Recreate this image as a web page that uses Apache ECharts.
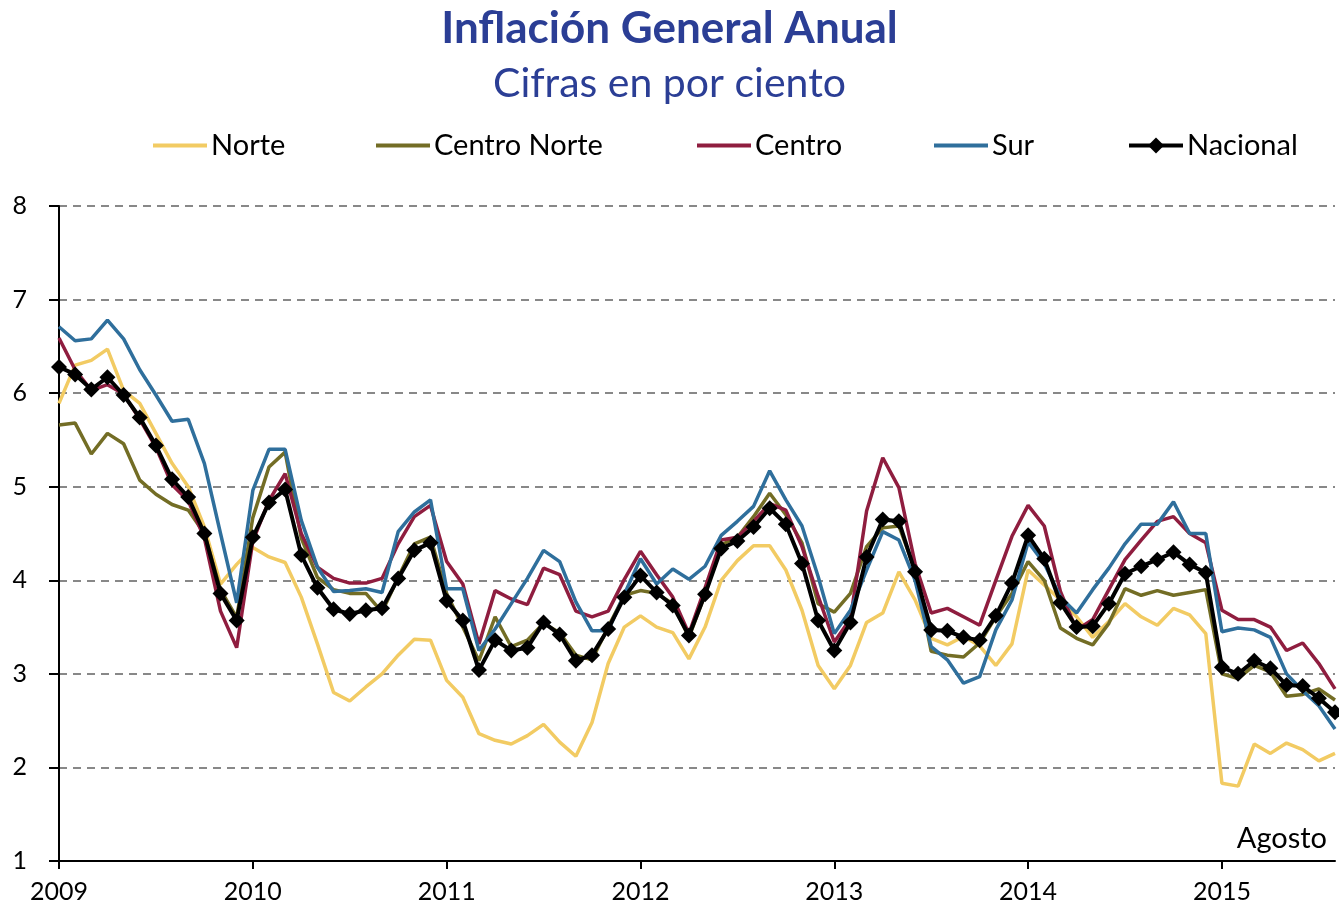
<!DOCTYPE html>
<html>
<head>
<meta charset="utf-8">
<title>Inflación General Anual</title>
<script src="https://cdn.jsdelivr.net/npm/echarts@6/dist/echarts.min.js"></script>
<style>
  html, body { margin: 0; padding: 0; background: #fff; }
  #box { width: 1339px; height: 918px; }
</style>
</head>
<body>
<div id="box"></div>
<script>
// años y meses (ene 2009 - ago 2015)
const years = ['2009', '2010', '2011', '2012', '2013', '2014', '2015']
const months = ['Ene', 'Feb', 'Mar', 'Abr', 'May', 'Jun', 'Jul', 'Ago', 'Sep', 'Oct', 'Nov', 'Dic']
const lastMonths = 8 // 2015 llega hasta agosto

// inflación anual por región, en por ciento
const norte = [
  5.89, 6.30, 6.35, 6.47, 6.03, 5.89, 5.57, 5.25, 5.00, 4.57, 3.96, 4.17,
  4.35, 4.25, 4.19, 3.82, 3.32, 2.80, 2.71, 2.86, 3.00, 3.20, 3.37, 3.36,
  2.93, 2.75, 2.36, 2.29, 2.25, 2.34, 2.46, 2.27, 2.12, 2.48, 3.11, 3.50,
  3.62, 3.50, 3.44, 3.16, 3.50, 4.00, 4.21, 4.37, 4.37, 4.11, 3.68, 3.09,
  2.84, 3.09, 3.55, 3.65, 4.09, 3.79, 3.38, 3.31, 3.40, 3.30, 3.09, 3.32,
  4.11, 3.95, 3.79, 3.61, 3.39, 3.56, 3.75, 3.61, 3.52, 3.70, 3.63, 3.43,
  1.83, 1.80, 2.25, 2.15, 2.26, 2.19, 2.07, 2.15
]
const centroNorte = [
  5.66, 5.68, 5.35, 5.57, 5.46, 5.07, 4.92, 4.81, 4.75, 4.50, 3.90, 3.60,
  4.67, 5.21, 5.37, 4.45, 4.03, 3.90, 3.86, 3.86, 3.66, 4.03, 4.39, 4.46,
  3.86, 3.50, 3.14, 3.61, 3.29, 3.36, 3.54, 3.44, 3.20, 3.15, 3.50, 3.84,
  3.89, 3.86, 3.75, 3.39, 3.85, 4.38, 4.46, 4.68, 4.93, 4.70, 4.40, 3.75,
  3.66, 3.86, 4.36, 4.56, 4.58, 4.11, 3.24, 3.20, 3.18, 3.33, 3.61, 3.86,
  4.20, 4.00, 3.49, 3.38, 3.31, 3.54, 3.91, 3.84, 3.89, 3.84, 3.87, 3.90,
  3.00, 2.95, 3.09, 3.02, 2.76, 2.78, 2.84, 2.72
]
const centro = [
  6.59, 6.25, 6.03, 6.09, 5.99, 5.72, 5.42, 5.02, 4.85, 4.45, 3.67, 3.28,
  4.42, 4.85, 5.14, 4.50, 4.14, 4.02, 3.97, 3.97, 4.02, 4.39, 4.68, 4.80,
  4.20, 3.96, 3.32, 3.89, 3.80, 3.74, 4.13, 4.06, 3.67, 3.61, 3.67, 4.01,
  4.31, 4.06, 3.82, 3.43, 3.92, 4.43, 4.46, 4.63, 4.82, 4.75, 4.36, 3.83,
  3.34, 3.59, 4.74, 5.31, 4.99, 4.18, 3.65, 3.70, 3.61, 3.52, 4.00, 4.47,
  4.80, 4.58, 3.88, 3.47, 3.58, 3.90, 4.22, 4.43, 4.63, 4.68, 4.50, 4.40,
  3.68, 3.58, 3.58, 3.50, 3.25, 3.33, 3.11, 2.84
]
const sur = [
  6.71, 6.56, 6.58, 6.78, 6.58, 6.25, 5.98, 5.70, 5.72, 5.25, 4.50, 3.76,
  4.96, 5.40, 5.40, 4.64, 4.14, 3.88, 3.89, 3.91, 3.87, 4.52, 4.73, 4.86,
  3.91, 3.91, 3.25, 3.48, 3.75, 4.02, 4.32, 4.20, 3.77, 3.46, 3.46, 3.85,
  4.23, 3.96, 4.12, 4.01, 4.15, 4.48, 4.63, 4.79, 5.17, 4.86, 4.58, 4.04,
  3.43, 3.68, 4.11, 4.52, 4.43, 4.00, 3.29, 3.15, 2.90, 2.97, 3.47, 3.79,
  4.41, 4.18, 3.82, 3.65, 3.90, 4.13, 4.39, 4.60, 4.60, 4.84, 4.50, 4.50,
  3.45, 3.49, 3.47, 3.39, 3.00, 2.82, 2.66, 2.41
]
const nacional = [
  6.28, 6.20, 6.04, 6.17, 5.98, 5.74, 5.44, 5.08, 4.89, 4.50, 3.86, 3.57,
  4.46, 4.83, 4.97, 4.27, 3.92, 3.69, 3.64, 3.68, 3.70, 4.02, 4.32, 4.40,
  3.78, 3.57, 3.04, 3.36, 3.25, 3.28, 3.55, 3.42, 3.14, 3.20, 3.48, 3.82,
  4.05, 3.87, 3.73, 3.41, 3.85, 4.34, 4.42, 4.57, 4.77, 4.60, 4.18, 3.57,
  3.25, 3.55, 4.25, 4.65, 4.63, 4.09, 3.47, 3.46, 3.39, 3.36, 3.62, 3.97,
  4.48, 4.23, 3.76, 3.50, 3.51, 3.75, 4.07, 4.15, 4.22, 4.30, 4.17, 4.08,
  3.07, 3.00, 3.14, 3.06, 2.88, 2.87, 2.74, 2.59
]

const yTicks = [1, 2, 3, 4, 5, 6, 7, 8]

// categorias mensuales "2009-Ene", ...
const categories = []
years.forEach((y, yi) => {
  const n = yi === years.length - 1 ? lastMonths : 12
  for (let m = 0; m < n; m++) categories.push(y + '-' + months[m])
})

const font = 'Lato, "Open Sans", sans-serif'
const colors = {
  'Norte': '#F2CB63',
  'Centro Norte': '#736D25',
  'Centro': '#8F1D3F',
  'Sur': '#2F6F9C',
  'Nacional': '#000000'
}
const legendPos = [
  { name: 'Norte', left: 153 },
  { name: 'Centro Norte', left: 376 },
  { name: 'Centro', left: 697 },
  { name: 'Sur', left: 934 },
  { name: 'Nacional', left: 1127 }
]

function lineSerie(name, data, z) {
  return {
    name: name,
    type: 'line',
    data: data,
    symbol: 'none',
    z: z,
    lineStyle: { color: colors[name], width: 3.5 },
    itemStyle: { color: colors[name] }
  }
}

const myChart = echarts.init(document.getElementById('box'))
const option = {
  animation: false,
  textStyle: { fontFamily: font },
  title: [
    {
      text: 'Inflación General Anual',
      left: 'center',
      top: 2,
      textStyle: { fontFamily: font, fontSize: 44, fontWeight: 'bold', color: '#2B3E95' }
    },
    {
      text: 'Cifras en por ciento',
      left: 'center',
      top: 58,
      textStyle: { fontFamily: font, fontSize: 41, fontWeight: 'normal', color: '#2B3E95' }
    }
  ],
  legend: legendPos.map(p => {
    const isNac = p.name === 'Nacional'
    return {
      data: [isNac ? { name: p.name } : { name: p.name, icon: 'rect' }],
      left: p.left,
      top: 131,
      padding: 0,
      itemWidth: 54,
      itemHeight: isNac ? 20 : 4,
      itemGap: 0,
      lineStyle: { width: 4 },
      textStyle: { fontFamily: font, fontSize: 29, color: '#000', padding: [0, 0, 0, -1] }
    }
  }),
  grid: { left: 59, right: 4, top: 206, bottom: 57 },
  xAxis: {
    type: 'category',
    data: categories,
    boundaryGap: false,
    axisLine: { lineStyle: { color: '#000', width: 2 } },
    axisTick: { interval: (i) => i % 12 === 0, length: 8, lineStyle: { color: '#000', width: 2 } },
    axisLabel: {
      interval: (i) => i % 12 === 0,
      formatter: (v) => v.split('-')[0],
      fontFamily: font,
      fontSize: 25,
      color: '#000',
      margin: 18
    },
    splitLine: { show: false }
  },
  yAxis: {
    type: 'value',
    min: yTicks[0],
    max: yTicks[yTicks.length - 1],
    interval: 1,
    axisLine: { show: true, lineStyle: { color: '#000', width: 2 } },
    axisTick: { show: true, length: 10, lineStyle: { color: '#000', width: 2 } },
    axisLabel: { fontFamily: font, fontSize: 25, color: '#000', margin: 32, align: 'right' },
    splitLine: { lineStyle: { color: '#888', width: 2, type: [8, 6] } }
  },
  graphic: [
    {
      type: 'text',
      right: 12,
      top: 824,
      style: { text: 'Agosto', fontFamily: font, fontSize: 29, fill: '#000' }
    }
  ],
  series: [
    lineSerie('Norte', norte, 2),
    lineSerie('Centro Norte', centroNorte, 3),
    lineSerie('Centro', centro, 4),
    lineSerie('Sur', sur, 5),
    {
      name: 'Nacional',
      type: 'line',
      data: nacional,
      z: 10,
      symbol: 'diamond',
      symbolSize: 16,
      showSymbol: true,
      showAllSymbol: true,
      lineStyle: { color: '#000', width: 4 },
      itemStyle: { color: '#000' }
    }
  ]
}
myChart.setOption(option)
window.onresize = function () {
  myChart.resize()
}
</script>
</body>
</html>
